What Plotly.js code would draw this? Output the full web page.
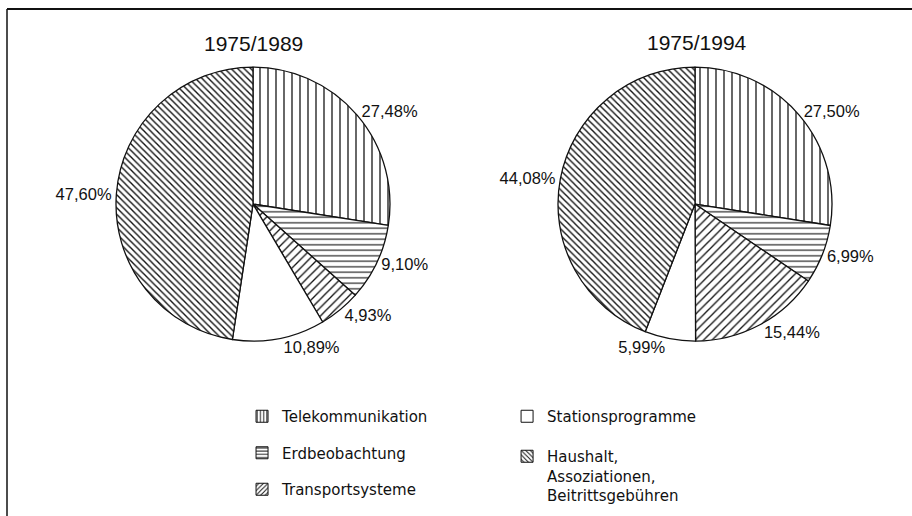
<!DOCTYPE html>
<html><head><meta charset="utf-8">
<script src="https://cdn.plot.ly/plotly-3.0.1.min.js"></script>
<style>html,body{margin:0;padding:0;background:#fff}#chart{width:912px;height:516px}</style>
</head><body><div id="chart"></div>
<script>
// ---- data ----
const categories = ['Telekommunikation', 'Erdbeobachtung', 'Transportsysteme', 'Stationsprogramme', 'Haushalt,<br>Assoziationen,<br>Beitrittsgebühren'];
const periods = ['1975/1989', '1975/1994'];
const shares1989 = [27.48, 9.10, 4.93, 10.89, 47.60];
const shares1994 = [27.50, 6.99, 15.44, 5.99, 44.08];

// ---- styles ----
const patternShapes = ['|', '-', '/', '', '\\'];
const patternSizes = [8, 5.5, 6, 8, 4.6];
const patternSolidity = [0.16, 0.2, 0.22, 0.2, 0.3];
const legendOf = ['legend', 'legend', 'legend', 'legend2', 'legend2'];

const numFont = {family: 'Liberation Sans, Arial, sans-serif', size: 16.5, color: '#111'};
const legFont = {family: 'DejaVu Sans, sans-serif', size: 15, color: '#111'};

function pie(values, dx) {
  return {
    type: 'pie', values: values, labels: categories, sort: false,
    direction: 'clockwise', rotation: 0,
    domain: {x: dx, y: [0.339, 0.870]},
    marker: {
      colors: categories.map(() => 'white'),
      line: {color: '#111', width: 1.3},
      pattern: {shape: patternShapes, size: patternSizes, solidity: patternSolidity,
                fgcolor: '#111', bgcolor: 'white', fillmode: 'replace'}
    },
    textposition: 'outside', texttemplate: '%{value:.2f}%', textfont: numFont,
    showlegend: false, hoverinfo: 'skip'
  };
}

const traces = [
  pie(shares1989, [0.1272, 0.4276]),
  pie(shares1994, [0.6118, 0.9123])
];

// legend-only entries (no drawn values)
categories.forEach((name, i) => {
  traces.push({
    type: 'bar', x: [name], y: [null], name: name, legend: legendOf[i], legendgroup: 'g' + i,
    marker: {color: 'white', line: {color: '#111', width: 1},
             pattern: {shape: patternShapes[i], size: Math.min(patternSizes[i], 4), solidity: 0.3,
                       fgcolor: '#111', bgcolor: 'white', fillmode: 'replace'}},
    hoverinfo: 'skip'
  });
});

const layout = {
  width: 912, height: 516,
  margin: {l: 0, r: 0, t: 0, b: 0},
  paper_bgcolor: 'white', plot_bgcolor: 'white',
  separators: ',.',
  showlegend: true,
  xaxis: {visible: false}, yaxis: {visible: false},
  legend: {x: 0.2654, y: 1 - 400 / 516, xanchor: 'left', yanchor: 'top', bgcolor: 'rgba(0,0,0,0)',
           font: legFont, tracegroupgap: 14, valign: 'top', itemclick: false, itemdoubleclick: false},
  legend2: {x: 0.556, y: 1 - 400 / 516, xanchor: 'left', yanchor: 'top', bgcolor: 'rgba(0,0,0,0)',
            font: legFont, tracegroupgap: 17.5, valign: 'top', itemclick: false, itemdoubleclick: false},
  annotations: [
    {text: periods[0], xref: 'paper', yref: 'paper', x: 253 / 912, y: 1 - 43 / 516, yanchor: 'middle', xanchor: 'center',
     showarrow: false, font: {family: numFont.family, size: 21, color: '#111'}},
    {text: periods[1], xref: 'paper', yref: 'paper', x: 697 / 912, y: 1 - 42 / 516, yanchor: 'middle', xanchor: 'center',
     showarrow: false, font: {family: numFont.family, size: 21, color: '#111'}}
  ],
  shapes: [
    {type: 'line', xref: 'paper', yref: 'paper', x0: 7 / 912, x1: 1, y0: 1 - 9 / 516, y1: 1 - 9 / 516, line: {color: '#111', width: 2}},
    {type: 'line', xref: 'paper', yref: 'paper', x0: 7 / 912, x1: 7 / 912, y0: 0, y1: 1 - 9 / 516, line: {color: '#111', width: 1.5}}
  ]
};

Plotly.newPlot('chart', traces, layout, {displayModeBar: false, staticPlot: true});
</script>
</body></html>
